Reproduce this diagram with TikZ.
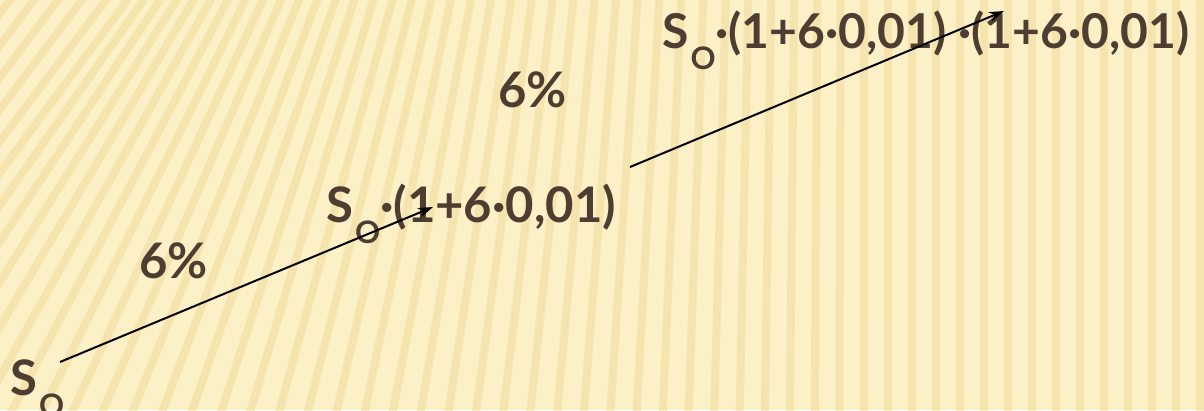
\documentclass[tikz,border=0pt]{standalone}
\usepackage{fontspec}
\setmainfont{Lato}
\usetikzlibrary{arrows.meta}
\definecolor{bg}{HTML}{FCF0C6}
\definecolor{stripe}{HTML}{EBD189}
\definecolor{ink}{HTML}{4E3D31}
\newcommand{\SubO}{\hspace{2pt}\raisebox{-21pt}{\fontsize{31}{31}\selectfont O}}
\begin{document}
\begin{tikzpicture}[x=1pt,y=-1pt,
  lbl/.style={text=ink, font=\fontsize{49}{54}\selectfont\bfseries, inner sep=0pt, anchor=base west},
  arr/.style={-{Stealth[length=15pt,width=10pt]}, line width=2pt, black},
  stripeline/.style={stripe, line width=8pt, opacity=0.38}]
\useasboundingbox (0,0) rectangle (1204,410);
\fill[bg] (0,0) rectangle (1204,410);
\begin{scope}
\clip (0,0) rectangle (1204,410);
\foreach \xm in {-264,-240,...,1220}{
  \pgfmathsetmacro{\k}{\xm<900 ? min(0.75,0.7*(1-\xm/900)^2) : 0}
  \draw[stripeline] (\xm-\k*215, 420) -- (\xm+\k*215, -10);
}
\end{scope}
% labels
\node[lbl] (s0) at (10,395) {S\SubO};
\node[lbl] (s1) at (326,222) {S\SubO·(1+6·0,01)};
\node[lbl, font=\fontsize{48}{54}\selectfont\bfseries] (s2) at (662,48) {S\SubO·(1+6·0,01) ·(1+6·0,01)};
\node[lbl] (r1) at (139,278) {6\%};
\node[lbl] (r2) at (498,107) {6\%};
% arrows
\coordinate (p1) at (60,362);
\coordinate (q1) at (433,207);
\coordinate (p2) at (630,167);
\coordinate (q2) at (1004,11);
\draw[arr] (p1) -- (q1);
\draw[arr] (p2) -- (q2);
\end{tikzpicture}
\end{document}
